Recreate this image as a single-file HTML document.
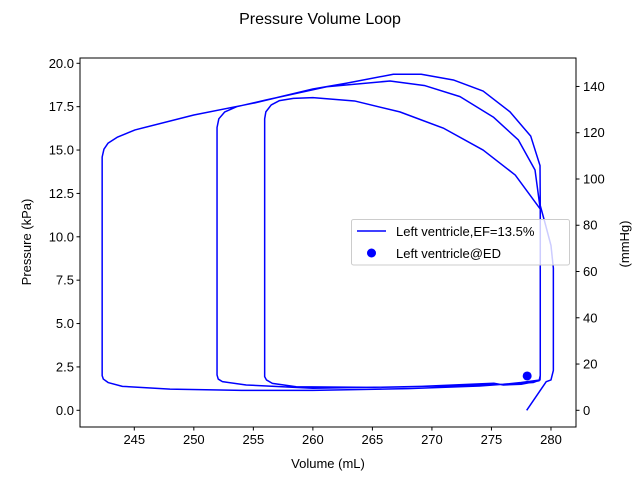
<!DOCTYPE html>
<html><head><meta charset="utf-8"><style>
body{margin:0;background:#fff;}
svg text{font-family:"Liberation Sans","DejaVu Sans",sans-serif;}
</style></head><body>
<svg id="chart" width="640" height="480">
<rect width="640" height="480" fill="#fff"/>
</svg>
<script>
const volume = [277.96,279.6,280.0,280.2,280.2,280.0,279.5,279.1,279.08,278.3,276.56,274.3,271.8,269.1,266.76,262.8,260,255,250,245.06,243.6,242.8,242.45,242.3,242.3,242.4,242.8,244,248,254,260,268,274,276,277.5,279.08,279.1,279.1,278.66,277.26,275.16,272.36,269.42,266.48,261.16,256.1,253.6,252.6,252.1,251.95,251.95,252.05,252.4,254.4,260,268.4,275.2,276,277.5,279.0,279.1,279.1,277,274.3,271,267.3,263.5,260,258.36,257.2,256.5,256.05,255.95,255.95,256.1,256.6,258.6,265,272,276,278.5,279.08];
const pressure = [0,1.65,1.75,2.3,8.2,9.5,10.8,11.8,14.1,15.8,17.2,18.4,19.04,19.37,19.37,18.85,18.52,17.7,17.02,16.16,15.75,15.4,15.05,14.6,2.0,1.8,1.6,1.38,1.22,1.15,1.15,1.25,1.4,1.5,1.6,1.75,2.0,11.6,13.85,15.58,16.9,18.08,18.71,18.98,18.65,17.89,17.5,17.2,16.8,16.3,2.04,1.8,1.65,1.46,1.27,1.36,1.56,1.46,1.5,1.7,2.0,11.6,13.56,15.0,16.25,17.2,17.83,18.02,17.98,17.85,17.6,17.2,16.8,1.94,1.75,1.55,1.36,1.32,1.42,1.5,1.6,1.75];
const edVolume = [278.0];
const edPressure = [1.98];
const xTicks = [245,250,255,260,265,270,275,280];
const yTicks = [0,2.5,5,7.5,10,12.5,15,17.5,20];
const mmTicks = [0,20,40,60,80,100,120,140];

const L=80,R=576,T=58,B=427;
const xs=v=>134.3+(v-245)*11.905;
const ys=p=>410.3-p*17.35;
const ysmm=m=>ys(m*0.133322);
const svg=document.getElementById('chart');
const NS='http://www.w3.org/2000/svg';
function mk(tag,attrs,parent){const e=document.createElementNS(NS,tag);for(const k in attrs)e.setAttribute(k,attrs[k]);(parent||svg).appendChild(e);return e;}

const title=mk('text',{x:320,y:24,'text-anchor':'middle','font-size':16});
title.textContent='Pressure Volume Loop';



const d=volume.map((v,i)=>(i?'L':'M')+xs(v).toFixed(2)+' '+ys(pressure[i]).toFixed(2)).join(' ');
const line=mk('path',{d:d,fill:'none',stroke:'#0000ff','stroke-width':1.5,'stroke-linejoin':'round'});



edVolume.forEach((v,i)=>{
 const c=mk('circle',{cx:xs(v),cy:ys(edPressure[i]),r:4.5,fill:'#0000ff'});
 
 
});

const frame=mk('rect',{x:L,y:T,width:R-L,height:B-T,fill:'none',stroke:'#000','stroke-width':1});



xTicks.forEach(t=>{
 const x=xs(t);
 mk('line',{x1:x,x2:x,y1:B,y2:B+3.5,stroke:'#000'});
 const tx=mk('text',{x:x,y:B+17,'text-anchor':'middle','font-size':13});
 tx.textContent=t;
 
 
});
yTicks.forEach(t=>{
 const y=ys(t);
 mk('line',{x1:L,x2:L-3.5,y1:y,y2:y,stroke:'#000'});
 const tx=mk('text',{x:L-6,y:y+4.5,'text-anchor':'end','font-size':13});
 tx.textContent=t.toFixed(1);
 
 
});
mmTicks.forEach(t=>{
 const y=ysmm(t);
 mk('line',{x1:R,x2:R+3.5,y1:y,y2:y,stroke:'#000'});
 const tx=mk('text',{x:R+7,y:y+4.5,'text-anchor':'start','font-size':13});
 tx.textContent=t;
 
 
});

const xl=mk('text',{x:328,y:468,'text-anchor':'middle','font-size':13});
xl.textContent='Volume (mL)';


const yl=mk('text',{x:0,y:0,'text-anchor':'middle','font-size':13,transform:'translate(31,242) rotate(-90)'});
yl.textContent='Pressure (kPa)';


const yr=mk('text',{x:0,y:0,'text-anchor':'middle','font-size':13,transform:'translate(629,244) rotate(-90)'});
yr.textContent='(mmHg)';



const lg=mk('g',{});


mk('rect',{x:351.5,y:219.5,width:218,height:45.5,rx:2,fill:'#fff','fill-opacity':0.8,stroke:'#ccc'},lg);
mk('line',{x1:357,x2:386,y1:231,y2:231,stroke:'#0000ff','stroke-width':1.5},lg);
const l1=mk('text',{x:396,y:236,'font-size':13},lg);
l1.textContent='Left ventricle,EF=13.5%';


mk('circle',{cx:371.5,cy:253,r:4.5,fill:'#0000ff'},lg);
const l2=mk('text',{x:396,y:258,'font-size':13},lg);
l2.textContent='Left ventricle@ED';


</script>
</body></html>
